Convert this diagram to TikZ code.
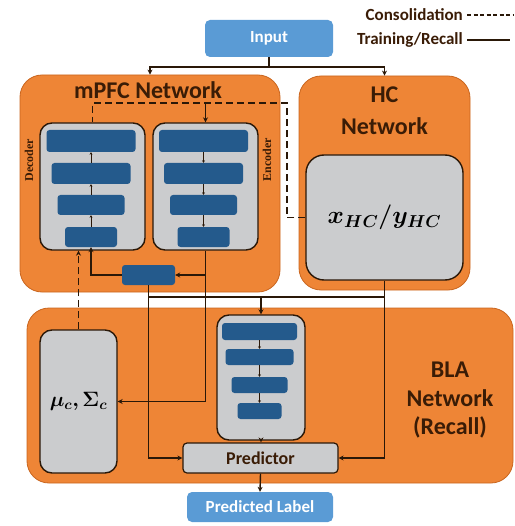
\documentclass[tikz,border=0pt]{standalone}
\usepackage{fontspec}
\usepackage{bm}
\setmainfont{Carlito}
\newfontfamily\seriflab{Liberation Serif}
\usetikzlibrary{arrows.meta}
\definecolor{orangebox}{HTML}{EE8536}
\definecolor{orangeedge}{HTML}{C9651E}
\definecolor{grayin}{HTML}{CBCCCE}
\definecolor{barblue}{HTML}{245A8C}
\definecolor{inblue}{HTML}{5A9BD5}
\definecolor{ink}{HTML}{2A1808}
\definecolor{titlebrown}{HTML}{3A1C06}
\tikzset{
  netbox/.style={draw=orangeedge, line width=0.8pt, fill=orangebox, rounded corners=22pt, inner sep=0pt},
  grbox/.style={draw=ink, line width=1.4pt, fill=grayin, rounded corners=12pt, inner sep=0pt},
  barbox/.style={fill=barblue, rounded corners=3pt, inner sep=0pt},
  iobox/.style={fill=inblue, rounded corners=5pt, inner sep=0pt, text=white, font=\bfseries\fontsize{17}{19}\selectfont},
  conn/.style={draw=ink, line width=1.4pt, -{Stealth[length=5pt,width=5pt]}},
  plainconn/.style={draw=ink, line width=1.4pt},
  cons/.style={draw=ink, line width=1.6pt, dash pattern=on 7pt off 4pt},
  tinyarr/.style={draw=ink, line width=0.8pt, -{Stealth[length=2.5pt,width=3pt]}},
  title/.style={text=titlebrown, font=\bfseries\fontsize{24}{26}\selectfont, inner sep=0pt},
  sidelab/.style={text=titlebrown, rotate=90, font=\seriflab\bfseries\fontsize{12}{14}\selectfont, inner sep=0pt},
  mathlab/.style={text=black, font=\fontsize{24}{26}\selectfont},
}
\begin{document}
\begin{tikzpicture}[x=1pt,y=-1pt]
\useasboundingbox (0,0) rectangle (514,526);

% legend
\node[anchor=east, inner sep=0pt, text=titlebrown, font=\bfseries\fontsize{17}{19}\selectfont] (lcons) at (463,15) {Consolidation};
\node[anchor=east, inner sep=0pt, text=titlebrown, font=\bfseries\fontsize{17}{19}\selectfont] (ltrain) at (463,40) {Training/Recall};
\coordinate (lc2) at (514,15);
\coordinate (lt2) at (510,40);
\draw[cons, line width=1.2pt, dash pattern=on 4pt off 2.5pt] ([xshift=4pt]lcons.east) -- (lc2);
\draw[plainconn, line width=1.2pt] ([xshift=4pt]ltrain.east) -- (lt2);

% input
\node[iobox, minimum width=128pt, minimum height=37pt] (input) at (269,38.5) {Input};

% networks
\node[netbox, minimum width=260pt, minimum height=217pt] (mpfc) at (150,183.5) {};
\node[netbox, minimum width=171pt, minimum height=214pt] (hc) at (384.5,183) {};
\node[netbox, minimum width=486pt, minimum height=175pt] (bla) at (270,395.5) {};

\node[title] (mpfct) at (148,90) {mPFC Network};
\node[title] (hct1) at (384.5,95) {HC};
\node[title] (hct2) at (384.5,126) {Network};
\node[title] (blat1) at (450,370) {BLA};
\node[title] (blat2) at (450,398) {Network};
\node[title] (blat3) at (450,427) {(Recall)};

% HC inner
\node[grbox, rounded corners=18pt, minimum width=157pt, minimum height=125pt, mathlab] (hcin) at (384.5,217.5) {$\bm{x_{HC}/y_{HC}}$};

% decoder / encoder
\node[grbox, minimum width=105pt, minimum height=127pt] (dec) at (92.5,186.5) {};
\node[grbox, minimum width=105pt, minimum height=127pt] (enc) at (205.5,186.5) {};
\node[sidelab] (declab) at (29,160) {Decoder};
\node[sidelab] (enclab) at (267,160) {Encoder};

\node[barbox, minimum width=89pt, minimum height=22pt] (d1) at (91,141) {};
\node[barbox, minimum width=79pt, minimum height=21pt] (d2) at (91,173.5) {};
\node[barbox, minimum width=67pt, minimum height=20pt] (d3) at (91,205) {};
\node[barbox, minimum width=52pt, minimum height=20pt] (d4) at (91,237) {};
\node[barbox, minimum width=89pt, minimum height=22pt] (e1) at (203.5,141) {};
\node[barbox, minimum width=79pt, minimum height=21pt] (e2) at (203.5,173.5) {};
\node[barbox, minimum width=67pt, minimum height=20pt] (e3) at (203.5,205) {};
\node[barbox, minimum width=52pt, minimum height=20pt] (e4) at (203.5,237) {};
\draw[tinyarr] (d4.north) -- (d3.south);
\draw[tinyarr] (d3.north) -- (d2.south);
\draw[tinyarr] (d2.north) -- (d1.south);
\draw[tinyarr] (e1.south) -- (e2.north);
\draw[tinyarr] (e2.south) -- (e3.north);
\draw[tinyarr] (e3.south) -- (e4.north);

% latent
\node[barbox, minimum width=53pt, minimum height=20pt] (lat) at (148.5,275) {};

% BLA contents
\node[grbox, minimum width=77pt, minimum height=143pt, text=black, font=\fontsize{21}{23}\selectfont] (mu) at (78.5,401.5) {$\bm{\mu_c,\Sigma_c}$};
\node[grbox, minimum width=88pt, minimum height=125pt] (blain) at (261,377.5) {};
\node[barbox, minimum width=75pt, minimum height=17pt] (b1) at (259.5,331.5) {};
\node[barbox, minimum width=68pt, minimum height=16pt] (b2) at (259.5,357) {};
\node[barbox, minimum width=56pt, minimum height=16pt] (b3) at (259.5,385) {};
\node[barbox, minimum width=44pt, minimum height=16pt] (b4) at (259.5,411) {};
\draw[tinyarr] (b1.south) -- (b2.north);
\draw[tinyarr] (b2.south) -- (b3.north);
\draw[tinyarr] (b3.south) -- (b4.north);

\node[grbox, line width=1.2pt, rounded corners=4pt, minimum width=155pt, minimum height=30pt, text=titlebrown, font=\bfseries\fontsize{18}{20}\selectfont] (pred) at (260.5,458) {Predictor};
\node[iobox, minimum width=146pt, minimum height=30pt] (plabel) at (260,507) {Predicted Label};

% input connectors
\coordinate (split) at (269,67);
\draw[plainconn] (input.south) -- (split);
\draw[conn] (split) -| (mpfc.north);
\draw[conn] (split) -| (hc.north);

% consolidation path
\coordinate (c1) at (287,103);
\draw[cons] (hcin.west) -| (c1) -| (dec.north);
\draw[conn] (enc.north |- c1) -- (enc.north);

% latent connections
\draw[conn] (enc.south) |- (lat.east);
\draw[conn] (lat.west) -| (d4.south);
\draw[cons, -{Stealth[length=5pt,width=5pt]}] (mu.north) -- (mu.north |- dec.south);
\draw[conn] (enc.south) |- (mu.east);

\coordinate (j1) at (148.5,297);
\draw[conn] (lat.south) |- (pred.west);
\draw[plainconn] (lat.south |- j1) -- (hcin.south |- j1);
\draw[conn] (hcin.south) |- (pred.east);
\draw[conn] (blain.north |- j1) -- (blain.north);
\draw[conn] (blain.south) -- (blain.south |- pred.north);
\draw[conn] (pred.south) -- (plabel.north);
\end{tikzpicture}
\end{document}
